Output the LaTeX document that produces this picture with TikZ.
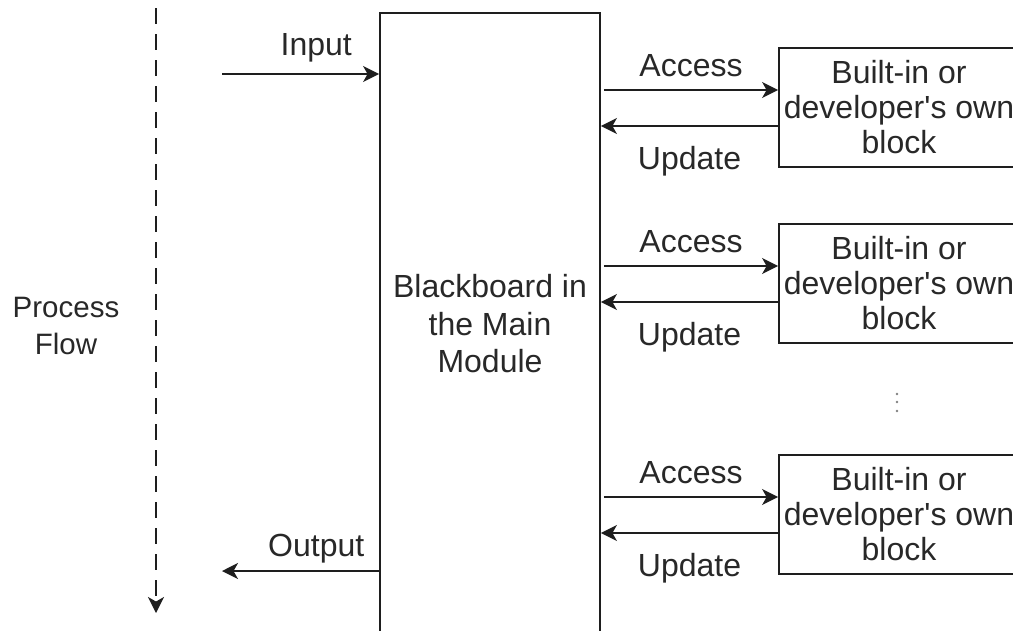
\documentclass[tikz,border=0pt]{standalone}
\usepackage{fontspec}
\setmainfont{Liberation Sans}
\usetikzlibrary{arrows.meta, positioning, calc}
\definecolor{linegray}{RGB}{30,30,30}
\definecolor{textgray}{RGB}{40,40,40}
\tikzset{
  box/.style={draw=linegray, line width=1.8pt, align=center, inner sep=0pt},
  flow/.style={-{Stealth[length=16pt, width=16pt, inset=4.5pt]}, line width=1.8pt, draw=linegray},
  lbl/.style={font=\fontsize{32}{36}\selectfont, text=textgray, align=center}
}

\begin{document}
\begin{tikzpicture}[x=1pt, y=-1pt]
        \useasboundingbox (0,0) rectangle (1013,630);
        \clip (0,0) rectangle (1013,630);

        % Process flow
        \coordinate (pftop) at (156,8);
        \coordinate (pfend) at (156,613);
        \draw[flow, dash pattern=on 16pt off 10pt] (pftop) -- (pfend);
        \node[lbl, font=\fontsize{29.5}{37}\selectfont] (pf) at (66,326) {Process\\Flow};

        % Blackboard
        \node[box, lbl, font=\fontsize{32}{37.5}\selectfont, minimum width=220pt, minimum height=622pt] (bb) at (490,324) {Blackboard in\\the Main\\Module};

        % Blocks
        \node[box, lbl, font=\fontsize{32}{35}\selectfont, minimum width=240pt, minimum height=119pt] (blk1) at (899,107.5) {Built-in or\\developer\textquotesingle s own\\block};
        \node[box, lbl, font=\fontsize{32}{35}\selectfont, minimum width=240pt, minimum height=119pt] (blk2) at (899,283.5) {Built-in or\\developer\textquotesingle s own\\block};
        \node[box, lbl, font=\fontsize{32}{35}\selectfont, minimum width=240pt, minimum height=119pt] (blk3) at (899,514.5) {Built-in or\\developer\textquotesingle s own\\block};
        \foreach \y in {394, 402, 411}
          \fill[gray] (897,\y) circle (1.3pt);

        % Access and update
        \foreach \b in {blk1, blk2, blk3} {
          \coordinate (acc) at ([yshift=17.5pt]\b.west);
          \coordinate (upd) at ([yshift=-18.5pt]\b.west);
          \draw[flow] ([xshift=3pt]bb.east |- acc) -- (acc) node[lbl, midway, above=9pt] {Access};
          \draw[flow] (upd) -- (bb.east |- upd) node[lbl, midway, below=16pt] {Update};
        }

        % Input and output
        \coordinate (in) at (222,74);
        \coordinate (out) at (222,571);
        \draw[flow] (in) -- (bb.west |- in) node[lbl, pos=0.6, above=8pt] {Input};
        \draw[flow] (bb.west |- out) -- (out) node[lbl, pos=0.4, above=4pt] {Output};
      \end{tikzpicture}
\end{document}
